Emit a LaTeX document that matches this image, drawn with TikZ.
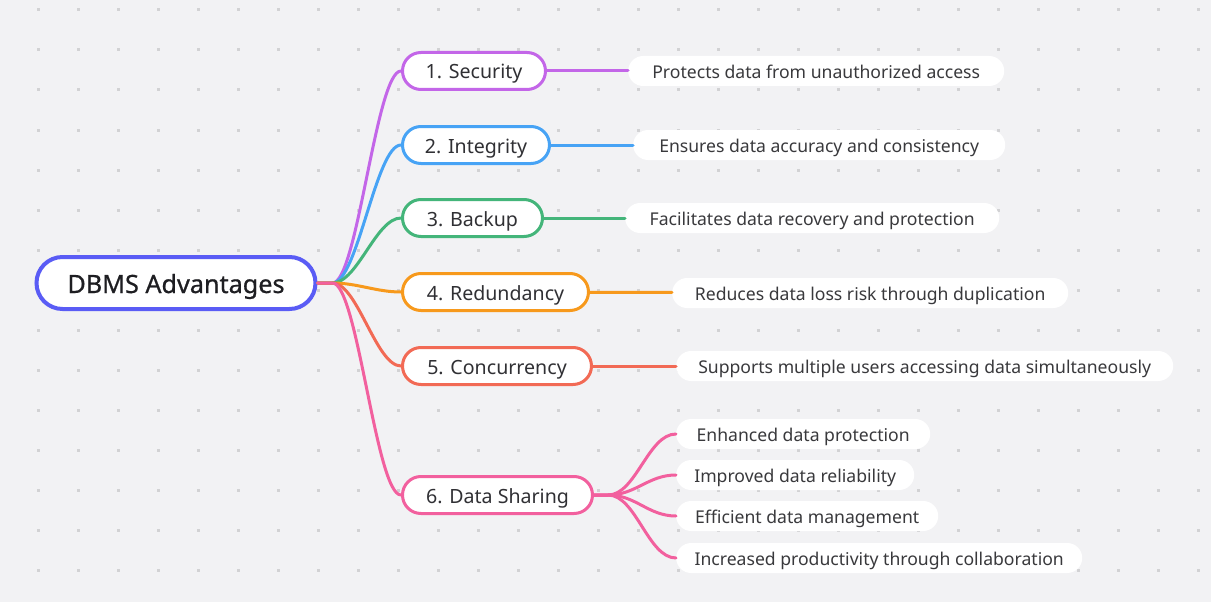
\documentclass[tikz,border=0pt]{standalone}
\usepackage{fontspec}
\setmainfont{Noto Sans}
\newfontfamily\rootfont{Noto Sans}[FakeBold=0.7]
\usepackage{xcolor}
\definecolor{bgpaper}{HTML}{F2F2F4}
\definecolor{dotgray}{HTML}{D2D2D4}
\definecolor{rootblue}{HTML}{5A5CF5}
\definecolor{cpurple}{HTML}{C366E8}
\definecolor{cblue}{HTML}{47A3F5}
\definecolor{cgreen}{HTML}{44B57A}
\definecolor{corange}{HTML}{F7991C}
\definecolor{cred}{HTML}{F26A55}
\definecolor{cpink}{HTML}{F2609E}
\definecolor{inkdark}{HTML}{1E1E22}
\tikzset{
    rootnode/.style={draw=rootblue, line width=4pt, fill=white, rounded corners=26pt,
        minimum width=279pt, minimum height=52pt, inner sep=0pt, text=inkdark,
        text height=20pt, text depth=0pt, font=\rootfont\fontsize{25.2}{29}\selectfont},
    branch/.style={line width=3pt, fill=white, rounded corners=18.5pt, minimum height=37pt,
        inner sep=0pt, anchor=west, text=inkdark!92, text height=16pt, text depth=0pt,
        font=\fontsize{19.6}{23}\selectfont},
    leaf/.style={fill=white, rounded corners=15pt, minimum height=30pt, inner sep=0pt,
        anchor=west, text=inkdark!88, text height=14pt, text depth=0pt,
        font=\fontsize{17.6}{21}\selectfont},
    link/.style={line width=3pt, line cap=round}
}
\begin{document}
\begin{tikzpicture}[x=1pt, y=-1pt]

            \fill[bgpaper] (0,0) rectangle (1211,602);
            \foreach \i in {0,...,29}
                \foreach \j in {0,...,14}
                    \fill[dotgray] ({36.5+40*\i},{8.5+40*\j}) rectangle ++(3,3);

            \node[rootnode] (R) at (176,283) {DBMS Advantages};

            \node[branch, draw=cpurple, minimum width=143pt] (B1) at (401,71) {1. Security};
            \node[branch, draw=cblue, minimum width=147pt] (B2) at (401,145) {2. Integrity};
            \node[branch, draw=cgreen, minimum width=140pt] (B3) at (401,218) {3. Backup};
            \node[branch, draw=corange, minimum width=186pt] (B4) at (401,292) {4. Redundancy};
            \node[branch, draw=cred, minimum width=189pt] (B5) at (401,366) {5. Concurrency};
            \node[branch, draw=cpink, minimum width=190pt] (B6) at (401,495) {6. Data Sharing};

            \node[leaf, minimum width=376pt] (L1) at (628,71) {Protects data from unauthorized access};
            \node[leaf, minimum width=372pt] (L2) at (633,145) {Ensures data accuracy and consistency};
            \node[leaf, minimum width=374pt] (L3) at (625,218) {Facilitates data recovery and protection};
            \node[leaf, minimum width=396pt] (L4) at (672,293) {Reduces data loss risk through duplication};
            \node[leaf, minimum width=497pt] (L5) at (676,366) {Supports multiple users accessing data simultaneously};

            \node[leaf, minimum width=254pt] (S1) at (676,434) {Enhanced data protection};
            \node[leaf, minimum width=238pt] (S2) at (676,475) {Improved data reliability};
            \node[leaf, minimum width=262pt] (S3) at (676,516) {Efficient data management};
            \node[leaf, minimum width=406pt] (S4) at (676,558) {Increased productivity through collaboration};

            \draw[link, cpurple] (R.east) -- ++(15,0) .. controls +(25,0) and +(-25,0) .. (B1.west);
            \draw[link, cblue] (R.east) -- ++(15,0) .. controls +(25,0) and +(-25,0) .. (B2.west);
            \draw[link, cgreen] (R.east) -- ++(15,0) .. controls +(25,0) and +(-25,0) .. (B3.west);
            \draw[link, corange] (R.east) -- ++(15,0) .. controls +(25,0) and +(-25,0) .. (B4.west);
            \draw[link, cred] (R.east) -- ++(15,0) .. controls +(25,0) and +(-25,0) .. (B5.west);
            \draw[link, cpink] (R.east) -- ++(15,0) .. controls +(25,0) and +(-25,0) .. (B6.west);

            \draw[link, cpurple] (B1) -- (L1);
            \draw[link, cblue] (B2) -- (L2);
            \draw[link, cgreen] (B3) -- (L3);
            \draw[link, corange] (B4) -- (L4);
            \draw[link, cred] (B5) -- (L5);

            \draw[link, cpink] (B6.east) -- ++(14,0) .. controls +(28,0) and +(-28,0) .. (S1.west);
            \draw[link, cpink] (B6.east) -- ++(14,0) .. controls +(28,0) and +(-28,0) .. (S2.west);
            \draw[link, cpink] (B6.east) -- ++(14,0) .. controls +(28,0) and +(-28,0) .. (S3.west);
            \draw[link, cpink] (B6.east) -- ++(14,0) .. controls +(28,0) and +(-28,0) .. (S4.west);

        \end{tikzpicture}
\end{document}
